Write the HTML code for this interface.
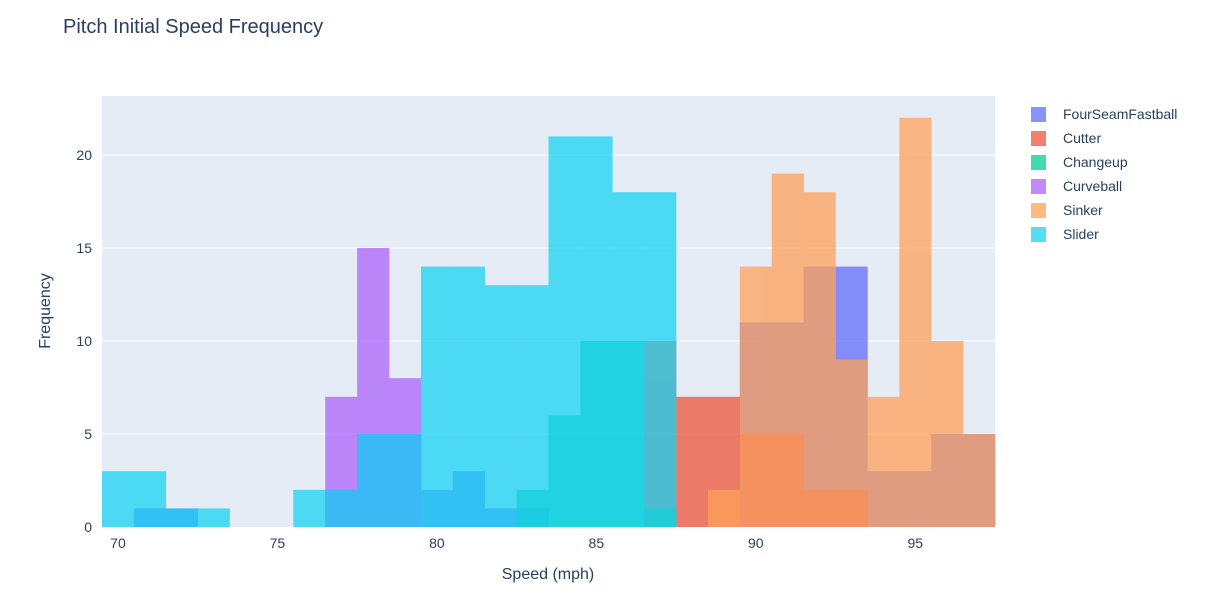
<!DOCTYPE html>
<html><head><meta charset="utf-8">
<style>
body{margin:0;background:#fff;font-family:"Liberation Sans",Arial,sans-serif;}
svg text{font-family:"Liberation Sans",Arial,sans-serif;fill:#2a3f5f;}
</style></head>
<body>
<svg id="chart" width="1217" height="607">
<text x="63" y="33" font-size="20">Pitch Initial Speed Frequency</text>
<rect x="102" y="96" width="893" height="431" fill="#e5ecf6"/>
<g id="grid"></g>
<g id="bars"></g>
<g id="xticks"></g>
<g id="yticks"></g>
<text x="548" y="579" font-size="16" text-anchor="middle">Speed (mph)</text>
<text x="50" y="311" font-size="16" text-anchor="middle" transform="rotate(-90 50 311)">Frequency</text>
<g id="legend"></g>
</svg>
<script>
const seriesNames = ["FourSeamFastball","Cutter","Changeup","Curveball","Sinker","Slider"];
const seriesColors = ["#636efa","#EF553B","#00cc96","#ab63fa","#FFA15A","#19d3f3"];
const binCenters = [70,71,72,73,74,75,76,77,78,79,80,81,82,83,84,85,86,87,88,89,90,91,92,93,94,95,96,97];
const fourSeam  = [0,1,1,0,0,0,0,2,5,5,2,3,1,1,0,0,0,0,0,0,11,11,14,14,3,3,5,5];
const cutter    = [0,0,0,0,0,0,0,0,0,0,0,0,0,0,0,0,0,10,7,7,5,5,2,2,0,0,0,0];
const changeup  = [0,0,0,0,0,0,0,0,0,0,0,0,0,2,6,10,10,1,0,0,0,0,0,0,0,0,0,0];
const curveball = [0,0,0,0,0,0,0,7,15,8,0,0,0,0,0,0,0,0,0,0,0,0,0,0,0,0,0,0];
const sinker    = [0,0,0,0,0,0,0,0,0,0,0,0,0,0,0,0,0,0,0,2,14,19,18,9,7,22,10,5];
const slider    = [3,3,1,1,0,0,2,2,5,5,14,14,13,13,21,21,18,18,0,0,0,0,0,0,0,0,0,0];
const allSeries = [fourSeam,cutter,changeup,curveball,sinker,slider];
const xTicks = [70,75,80,85,90,95];
const yTicks = [0,5,10,15,20];

const X0=102,X1=995,Y0=527,Y1=96;
const xMin=69.5,xMax=97.5,yMin=0,yMax=23.17;
const xs=v=>X0+(v-xMin)/(xMax-xMin)*(X1-X0);
const ys=v=>Y0-(v-yMin)/(yMax-yMin)*(Y0-Y1);
const NS="http://www.w3.org/2000/svg";
function mk(tag,attrs,parent){const e=document.createElementNS(NS,tag);for(const k in attrs)e.setAttribute(k,attrs[k]);parent.appendChild(e);return e;}

const grid=document.getElementById('grid');
const yt=document.getElementById('yticks');
yTicks.forEach(t=>{
  if(t>0){const l=mk('line',{x1:X0,x2:X1,y1:ys(t),y2:ys(t),stroke:'#fff','stroke-width':1},grid);
  
  }
  const tx=mk('text',{x:X0-10,y:ys(t)+5,'font-size':14,'text-anchor':'end'},yt);
  tx.textContent=t;
  
  
});
const xt=document.getElementById('xticks');
xTicks.forEach(t=>{
  const tx=mk('text',{x:xs(t),y:Y0+21,'font-size':14,'text-anchor':'middle'},xt);
  tx.textContent=t;
  
  
});
const bars=document.getElementById('bars');
allSeries.forEach((s,si)=>{
  const g=mk('g',{opacity:0.75},bars);
  
  
  s.forEach((v,i)=>{
    if(v<=0)return;
    const x=xs(binCenters[i]-0.5),w=xs(binCenters[i]+0.5)-x;
    const r=mk('rect',{x:x,y:ys(v),width:w+0.3,height:ys(0)-ys(v),fill:seriesColors[si]},g);
    
    
  });
});
const lg=document.getElementById('legend');
seriesNames.forEach((n,i)=>{
  const y=114+i*24;
  const g=mk('g',{},lg);
  
  
  mk('rect',{x:1031,y:y-7,width:15,height:15,fill:seriesColors[i],opacity:0.75},g);
  const t=mk('text',{x:1063,y:y+5,'font-size':14},g);
  t.textContent=n;
});
</script>
</body></html>
